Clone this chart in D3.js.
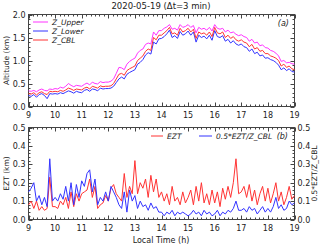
<!DOCTYPE html>
<html>
<head>
<meta charset="utf-8">
<script src="https://cdn.jsdelivr.net/npm/d3@7"></script>
<style>
  body { margin: 0; background: #fff; }
  svg text { font-family: "DejaVu Sans", sans-serif; fill: #222; }
</style>
</head>
<body>
<svg id="chart" width="320" height="245"></svg>
<script>
"use strict";

// time axis: 9:00 -> 19:00 every 6 min
var hours = d3.range(101).map(function(i){ return 9 + i * 0.1; });
var hourTicks = [9, 10, 11, 12, 13, 14, 15, 16, 17, 18, 19];

var zCBL = [
  0.28, 0.27, 0.30, 0.25, 0.30, 0.32, 0.28, 0.26, 0.33, 0.32,
  0.33, 0.32, 0.35, 0.33, 0.36, 0.40, 0.38, 0.35, 0.38, 0.37,
  0.36, 0.40, 0.42, 0.38, 0.44, 0.42, 0.40, 0.45, 0.43, 0.44,
  0.44, 0.45, 0.50, 0.60, 0.70, 0.72, 0.68, 0.78, 0.82, 0.85,
  0.88, 1.00, 1.05, 1.10, 1.20, 1.25, 1.22, 1.50, 1.45, 1.55,
  1.55, 1.60, 1.65, 1.72, 1.58, 1.60, 1.55, 1.70, 1.62, 1.65,
  1.70, 1.62, 1.68, 1.48, 1.62, 1.58, 1.60, 1.55, 1.62, 1.52,
  1.72, 1.60, 1.58, 1.62, 1.50, 1.55, 1.48, 1.52, 1.45, 1.42,
  1.45, 1.40, 1.38, 1.30, 1.35, 1.25, 1.28, 1.20, 1.22, 1.15,
  1.15, 1.10, 1.08, 1.05, 1.00, 0.88, 0.92, 0.85, 0.88, 0.82, 0.80
];
var zUpper = [
  0.34, 0.33, 0.35, 0.32, 0.36, 0.38, 0.35, 0.34, 0.38, 0.37,
  0.39, 0.38, 0.42, 0.40, 0.44, 0.50, 0.46, 0.43, 0.46, 0.45,
  0.44, 0.48, 0.51, 0.47, 0.53, 0.50, 0.49, 0.54, 0.52, 0.53,
  0.53, 0.55, 0.60, 0.72, 0.85, 0.84, 0.80, 0.92, 0.98, 1.02,
  1.05, 1.16, 1.22, 1.25, 1.35, 1.38, 1.36, 1.62, 1.55, 1.65,
  1.65, 1.70, 1.73, 1.78, 1.68, 1.70, 1.66, 1.78, 1.72, 1.74,
  1.78, 1.72, 1.76, 1.60, 1.72, 1.68, 1.70, 1.66, 1.72, 1.64,
  1.78, 1.70, 1.68, 1.70, 1.62, 1.66, 1.60, 1.62, 1.57, 1.54,
  1.56, 1.52, 1.50, 1.42, 1.46, 1.38, 1.40, 1.32, 1.34, 1.28,
  1.27, 1.22, 1.20, 1.16, 1.10, 0.98, 1.00, 0.95, 0.96, 0.93, 0.92
];
var zLower = [
  0.24, 0.22, 0.26, 0.20, 0.26, 0.28, 0.24, 0.17, 0.28, 0.27,
  0.28, 0.27, 0.30, 0.28, 0.31, 0.34, 0.32, 0.29, 0.33, 0.31,
  0.30, 0.35, 0.37, 0.33, 0.38, 0.37, 0.34, 0.40, 0.38, 0.39,
  0.39, 0.40, 0.44, 0.52, 0.60, 0.64, 0.60, 0.70, 0.74, 0.77,
  0.80, 0.92, 0.96, 1.02, 1.12, 1.17, 1.14, 1.40, 1.36, 1.47,
  1.48, 1.52, 1.58, 1.66, 1.50, 1.54, 1.48, 1.63, 1.55, 1.58,
  1.64, 1.55, 1.62, 1.40, 1.55, 1.50, 1.53, 1.47, 1.55, 1.44,
  1.65, 1.52, 1.50, 1.54, 1.42, 1.46, 1.38, 1.43, 1.36, 1.33,
  1.36, 1.30, 1.28, 1.20, 1.25, 1.15, 1.18, 1.10, 1.12, 1.05,
  1.06, 1.02, 1.00, 0.96, 0.90, 0.80, 0.84, 0.78, 0.82, 0.76, 0.75
];

var ezt = [
  0.08, 0.10, 0.06, 0.10, 0.05, 0.07, 0.05, 0.06, 0.23, 0.07,
  0.07, 0.06, 0.10, 0.08, 0.12, 0.06, 0.15, 0.07, 0.14, 0.10,
  0.14, 0.15, 0.16, 0.22, 0.12, 0.18, 0.06, 0.08, 0.09, 0.13,
  0.10, 0.17, 0.19, 0.14, 0.12, 0.10, 0.25, 0.12, 0.18, 0.14,
  0.32, 0.14, 0.20, 0.17, 0.22, 0.12, 0.24, 0.15, 0.22, 0.12,
  0.15, 0.10, 0.14, 0.08, 0.18, 0.10, 0.12, 0.08, 0.15, 0.09,
  0.12, 0.16, 0.08, 0.18, 0.10, 0.20, 0.09, 0.14, 0.08, 0.16,
  0.09, 0.15, 0.07, 0.17, 0.11, 0.18, 0.12, 0.20, 0.33, 0.14,
  0.15, 0.18, 0.12, 0.19, 0.10, 0.16, 0.08, 0.14, 0.18, 0.10,
  0.17, 0.09, 0.14, 0.20, 0.10, 0.15, 0.08, 0.12, 0.18, 0.11, 0.13
];
var ratio = [
  0.15, 0.17, 0.20, 0.10, 0.13, 0.08, 0.12, 0.07, 0.33, 0.10,
  0.12, 0.10, 0.14, 0.11, 0.18, 0.10, 0.20, 0.08, 0.19, 0.12,
  0.21, 0.18, 0.25, 0.27, 0.15, 0.22, 0.08, 0.12, 0.10, 0.15,
  0.10, 0.18, 0.15, 0.12, 0.08, 0.06, 0.15, 0.04, 0.16, 0.10,
  0.13, 0.06, 0.10, 0.07, 0.08, 0.05, 0.09, 0.06, 0.07, 0.04,
  0.04, 0.02, 0.04, 0.03, 0.05, 0.02, 0.04, 0.03, 0.04, 0.03,
  0.02, 0.03, 0.05, 0.03, 0.04, 0.02, 0.05, 0.03, 0.04, 0.02,
  0.03, 0.05, 0.02, 0.04, 0.03, 0.05, 0.04, 0.06, 0.10, 0.05,
  0.05, 0.06, 0.04, 0.07, 0.05, 0.06, 0.03, 0.05, 0.07, 0.04,
  0.06, 0.04, 0.07, 0.12, 0.06, 0.08, 0.05, 0.06, 0.10, 0.08, 0.09
];

var altTicks = [0.0, 0.5, 1.0, 1.5, 2.0];
var eztTicks = [0.0, 0.1, 0.2, 0.3, 0.4, 0.5];

var colUpper = "#ff33ff",
    colLower = "#3333ff",
    colCBL = "#ff3333";

var svg = d3.select("#chart");
var left = 28.5, right = 294.5;

var x = d3.scaleLinear().domain([9, 19]).range([left, right]);
var yA = d3.scaleLinear().domain([0, 2]).range([106.5, 14.5]);
var yB = d3.scaleLinear().domain([0, 0.5]).range([219.5, 127.5]);

function frame(y, yTicks, yMinorStep, labelRight){
  var top = y.range()[1], bottom = y.range()[0];
  var g = svg.append("g").attr("class", "frame");

  g.append("rect")
   .attr("x", left).attr("y", top)
   .attr("width", right - left).attr("height", bottom - top)
   .attr("fill", "none").attr("stroke", "#444").attr("stroke-width", 1);

  var xMinor = d3.range(9, 19.001, 1 / 6);
  var yDom = y.domain();
  var yMinor = d3.range(yDom[0], yDom[1] + 1e-6, yMinorStep);

  // ticks inward on all four sides
  var tk = g.append("g").attr("stroke", "#444").attr("stroke-width", 1);
  xMinor.forEach(function(h){
    var big = Math.abs(h - Math.round(h)) < 1e-6;
    var len = big ? 4 : 2;
    var xx = Math.round(x(h)) + 0.5;
    tk.append("line").attr("x1", xx).attr("x2", xx).attr("y1", bottom).attr("y2", bottom - len);
    tk.append("line").attr("x1", xx).attr("x2", xx).attr("y1", top).attr("y2", top + len);
  });
  yMinor.forEach(function(v){
    var big = yTicks.some(function(t){ return Math.abs(t - v) < 1e-6; });
    var len = big ? 4 : 2;
    var yy = Math.round(y(v)) + 0.5;
    tk.append("line").attr("x1", left).attr("x2", left + len).attr("y1", yy).attr("y2", yy);
    tk.append("line").attr("x1", right).attr("x2", right - len).attr("y1", yy).attr("y2", yy);
  });

  g.selectAll(".xl").data(hourTicks).enter().append("text")
   .attr("x", function(d){ return x(d); })
   .attr("y", bottom + 11)
   .attr("text-anchor", "middle")
   .attr("font-size", 8)
   .text(function(d){ return d; });

  g.selectAll(".yl").data(yTicks).enter().append("text")
   .attr("x", left - 3)
   .attr("y", function(d){ return y(d) + 3; })
   .attr("text-anchor", "end")
   .attr("font-size", 8)
   .text(function(d){ return d.toFixed(1); });

  if(labelRight){
    g.selectAll(".yr").data(yTicks).enter().append("text")
     .attr("x", right + 3)
     .attr("y", function(d){ return y(d) + 3; })
     .attr("text-anchor", "start")
     .attr("font-size", 8)
     .text(function(d){ return d.toFixed(1); });
  }
}

function drawLine(xs, ys, y, color){
  var line = d3.line()
    .x(function(d, i){ return x(xs[i]); })
    .y(function(d){ return y(d); });
  svg.append("path")
   .datum(ys)
   .attr("d", line)
   .attr("fill", "none")
   .attr("stroke", color)
   .attr("stroke-width", 1)
   .attr("stroke-linejoin", "round");
}

function legendItem(x1, x2, yy, color, label){
  svg.append("line")
   .attr("x1", x1).attr("x2", x2).attr("y1", yy).attr("y2", yy)
   .attr("stroke", color).attr("stroke-width", 1);
  svg.append("text")
   .attr("x", x2 + 4).attr("y", yy + 3)
   .attr("font-size", 7.5).attr("font-style", "italic")
   .text(label);
}

// panel (a)
frame(yA, altTicks, 0.1, false);
drawLine(hours, zUpper, yA, colUpper);
drawLine(hours, zLower, yA, colLower);
drawLine(hours, zCBL, yA, colCBL);

legendItem(33, 48, 22, colUpper, "Z_Upper");
legendItem(33, 48, 31, colLower, "Z_Lower");
legendItem(33, 48, 40, colCBL, "Z_CBL");

svg.append("text").attr("x", 289).attr("y", 26)
 .attr("text-anchor", "end").attr("font-size", 8).attr("font-style", "italic")
 .text("(a)");

svg.append("text")
 .attr("transform", "translate(9," + ((yA.range()[0] + yA.range()[1]) / 2) + ") rotate(-90)")
 .attr("text-anchor", "middle").attr("font-size", 7.5)
 .text("Altitude (km)");

svg.append("text").attr("x", 161).attr("y", 9)
 .attr("text-anchor", "middle").attr("font-size", 8.5)
 .text("2020-05-19 (\u0394t=3 min)");

// panel (b)
frame(yB, eztTicks, 0.02, true);
drawLine(hours, ezt, yB, colCBL);
drawLine(hours, ratio, yB, colLower);

legendItem(151, 163, 136, colCBL, "EZT");
legendItem(199, 212, 136, colLower, "0.5*EZT/Z_CBL");

svg.append("text").attr("x", 288).attr("y", 139)
 .attr("text-anchor", "end").attr("font-size", 8).attr("font-style", "italic")
 .text("(b)");

svg.append("text")
 .attr("transform", "translate(9," + ((yB.range()[0] + yB.range()[1]) / 2) + ") rotate(-90)")
 .attr("text-anchor", "middle").attr("font-size", 7.5)
 .text("EZT (km)");

svg.append("text")
 .attr("transform", "translate(317," + ((yB.range()[0] + yB.range()[1]) / 2) + ") rotate(-90)")
 .attr("text-anchor", "middle").attr("font-size", 7.5)
 .text("0.5*EZT/Z_CBL");

svg.append("text").attr("x", 161).attr("y", 243)
 .attr("text-anchor", "middle").attr("font-size", 8)
 .text("Local Time (h)");
</script>
</body>
</html>
